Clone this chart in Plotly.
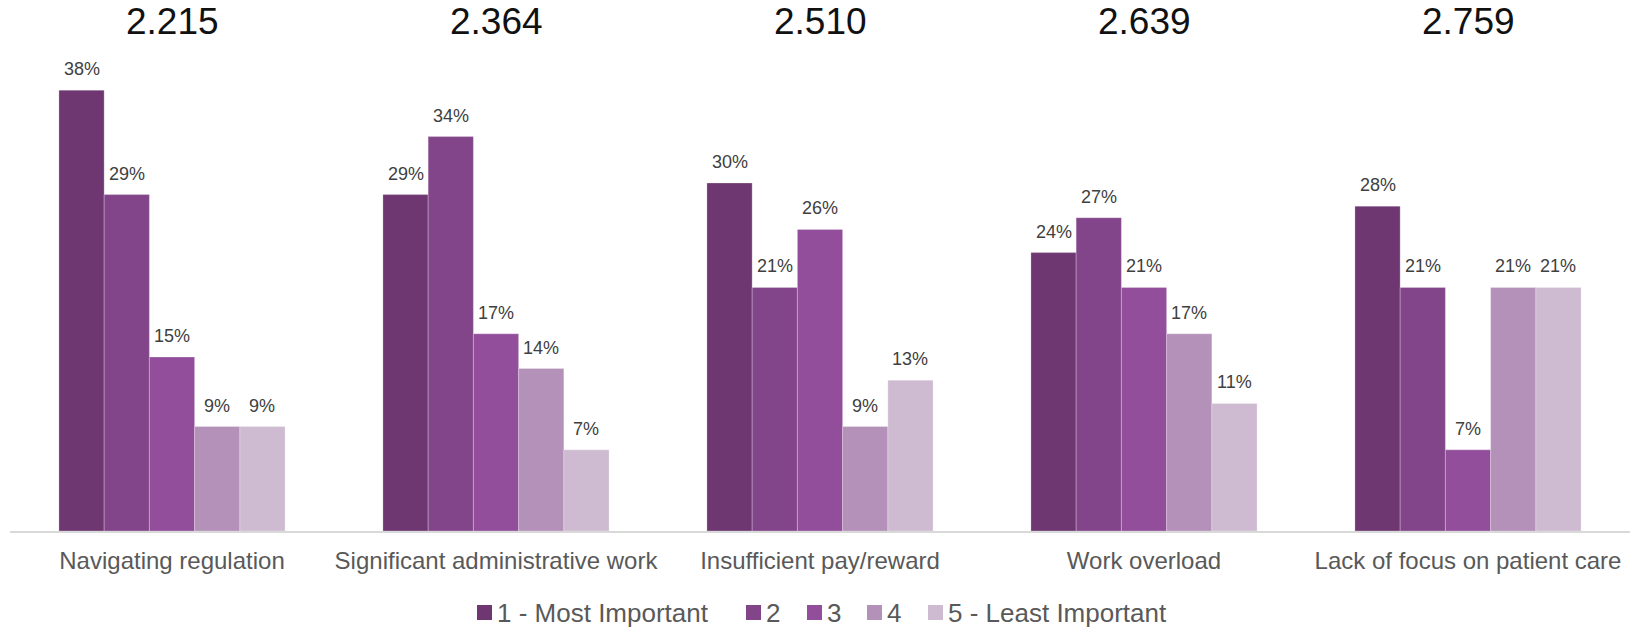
import plotly.graph_objects as go

# Survey results: share of respondents giving each importance rank per issue
categories = [
    "Navigating regulation",
    "Significant administrative work",
    "Insufficient pay/reward",
    "Work overload",
    "Lack of focus on patient care",
]
mean_scores = ["2.215", "2.364", "2.510", "2.639", "2.759"]
rank_names = ["1 - Most Important", "2", "3", "4", "5 - Least Important"]
rank_1 = [38, 29, 30, 24, 28]
rank_2 = [29, 34, 21, 27, 21]
rank_3 = [15, 17, 26, 21, 7]
rank_4 = [9, 14, 9, 17, 21]
rank_5 = [9, 7, 13, 11, 21]
series = [rank_1, rank_2, rank_3, rank_4, rank_5]
colors = ["#6E3772", "#824589", "#924E9A", "#B491B8", "#CEBBD1"]

FONT = "Liberation Sans, Arial, sans-serif"
BARGAP = 0.302

W, H = 1638, 627
M_L, M_R, M_T, M_B = 10, 8, 50, 96
PLOT_W = W - M_L - M_R
PLOT_H = H - M_T - M_B

fig = go.Figure()
for name, vals, col in zip(rank_names, series, colors):
    fig.add_trace(go.Bar(
        x=categories, y=vals, name=name,
        marker=dict(color=col, line=dict(color="rgba(255,255,255,0.25)", width=1)),
        hoverinfo="skip", showlegend=False,
    ))

# Percentage labels above each bar, placed at the bar's own offset in the group
n = len(series)
bar_w = (1 - BARGAP) / n
annotations = []
for j, vals in enumerate(series):
    for i, v in enumerate(vals):
        annotations.append(dict(
            x=i + (j - (n - 1) / 2) * bar_w, y=v, xref="x", yref="y",
            text=f"{v}%", showarrow=False, yanchor="bottom", yshift=9,
            font=dict(family=FONT, size=18, color="#404040"),
        ))

# Mean score headline above each group
for i, s in enumerate(mean_scores):
    annotations.append(dict(
        x=i, y=1, xref="x", yref="paper", text=s, showarrow=False,
        yanchor="middle", yshift=29,
        font=dict(family=FONT, size=37, color="#111111"),
    ))

# Compact legend row below the axis: small square swatch right before each label
legend_left_px = [477, 746, 807, 867, 928]
legend_mid_px = 612.5
swatch = 15
shapes = []
for name, col, px in zip(rank_names, colors, legend_left_px):
    x0 = (px - M_L) / PLOT_W
    x1 = (px + swatch - M_L) / PLOT_W
    y0 = (H - M_B - (legend_mid_px + swatch / 2)) / PLOT_H
    y1 = (H - M_B - (legend_mid_px - swatch / 2)) / PLOT_H
    shapes.append(dict(type="rect", xref="paper", yref="paper",
                       x0=x0, x1=x1, y0=y0, y1=y1,
                       fillcolor=col, line=dict(width=0)))
    annotations.append(dict(
        x=(px + swatch + 3 - M_L) / PLOT_W,
        y=(H - M_B - legend_mid_px) / PLOT_H,
        xref="paper", yref="paper", xanchor="left", yanchor="middle",
        text=name, showarrow=False,
        font=dict(family=FONT, size=26, color="#595959"),
    ))

fig.update_layout(
    width=W, height=H,
    margin=dict(l=M_L, r=M_R, t=M_T, b=M_B),
    barmode="group", bargap=BARGAP, bargroupgap=0,
    plot_bgcolor="white", paper_bgcolor="white",
    font=dict(family=FONT, color="#595959"),
    annotations=annotations,
    shapes=shapes,
    showlegend=False,
    xaxis=dict(
        showline=True, linecolor="#D9D9D9", linewidth=2,
        showgrid=False, ticks="", ticklabelstandoff=7,
        tickfont=dict(family=FONT, size=24, color="#595959"),
    ),
    yaxis=dict(
        range=[0, PLOT_H / 11.6], visible=False, showgrid=False, zeroline=False,
    ),
)

fig.write_html("out.html")
